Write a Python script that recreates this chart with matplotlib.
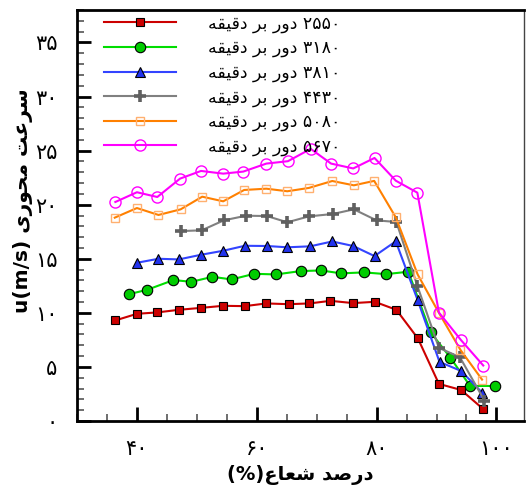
import matplotlib
matplotlib.use("Agg")
import matplotlib.pyplot as plt
from matplotlib.ticker import FixedLocator, MultipleLocator

# radial position (%) and axial velocity (m/s) for each speed
x_2550 = [36.4, 40.0, 43.4, 47.0, 50.7, 54.4, 58.0, 61.6, 65.3, 68.8, 72.3, 76.1, 79.7, 83.3, 86.9, 90.4, 94.1, 97.7]
u_2550 = [9.30, 9.91, 10.04, 10.28, 10.46, 10.65, 10.62, 10.87, 10.80, 10.87, 11.11, 10.90, 11.02, 10.28, 7.63, 3.43, 2.87, 1.15]

x_3180 = [38.7, 41.7, 46.1, 49.1, 52.6, 55.8, 59.6, 63.2, 67.3, 70.7, 74.1, 77.9, 81.6, 85.3, 89.0, 92.3, 95.6, 99.8]
u_3180 = [11.73, 12.13, 13.03, 12.87, 13.33, 13.09, 13.61, 13.55, 13.86, 13.92, 13.65, 13.74, 13.58, 13.80, 8.21, 5.87, 3.24, 3.24]

x_3810 = [40.0, 43.6, 47.0, 50.7, 54.4, 58.0, 61.7, 65.1, 68.9, 72.6, 76.1, 79.65, 83.2, 86.85, 90.5, 94.1, 97.6]
u_3810 = [14.63, 15.00, 14.94, 15.37, 15.74, 16.20, 16.18, 16.06, 16.15, 16.60, 16.18, 15.25, 16.61, 11.18, 5.46, 4.63, 2.63]

x_4430 = [47.4, 50.8, 54.5, 58.2, 61.7, 65.1, 68.7, 72.7, 76.2, 80.0, 83.3, 86.8, 90.4, 93.9, 98.0]
u_4430 = [17.56, 17.63, 18.55, 18.98, 18.95, 18.37, 18.92, 19.14, 19.57, 18.55, 18.40, 12.50, 6.76, 5.90, 1.89]

x_5080 = [36.3, 40.0, 43.6, 47.3, 50.9, 54.4, 57.9, 61.6, 65.1, 68.7, 72.6, 76.2, 79.6, 83.2, 86.85, 90.4, 94.0, 97.6]
u_5080 = [18.80, 19.69, 19.05, 19.57, 20.74, 20.31, 21.36, 21.48, 21.24, 21.55, 22.19, 21.79, 22.20, 18.83, 13.55, 10.00, 6.57, 3.83]

x_5670 = [36.4, 40.0, 43.4, 47.2, 50.7, 54.4, 57.75, 61.6, 65.2, 69.0, 72.4, 76.1, 79.65, 83.2, 86.8, 90.4, 94.1, 97.8]
u_5670 = [20.25, 21.15, 20.71, 22.41, 23.12, 22.87, 23.06, 23.80, 24.02, 25.16, 23.80, 23.35, 24.32, 22.22, 21.11, 10.03, 7.47, 5.13]

# Persian text, written in presentation forms and visual (left-to-right) order
rpm_text = "\ufeea\ufed8\ufef4\ufed7\ufea9 \ufeae\ufe91 \ufead\ufeed\ufea9"
labels = [
    rpm_text + " \u06f2\u06f5\u06f5\u06f0",
    rpm_text + " \u06f3\u06f1\u06f8\u06f0",
    rpm_text + " \u06f3\u06f8\u06f1\u06f0",
    rpm_text + " \u06f4\u06f4\u06f3\u06f0",
    rpm_text + " \u06f5\u06f0\u06f8\u06f0",
    rpm_text + " \u06f5\u06f6\u06f7\u06f0",
]
x_ticks = [40, 60, 80, 100]
x_tick_labels = ["\u06f4\u06f0", "\u06f6\u06f0", "\u06f8\u06f0", "\u06f1\u06f0\u06f0"]
y_ticks = [0, 5, 10, 15, 20, 25, 30, 35]
y_tick_labels = ["\u06f0", "\u06f5", "\u06f1\u06f0", "\u06f1\u06f5", "\u06f2\u06f0", "\u06f2\u06f5", "\u06f3\u06f0", "\u06f3\u06f5"]
x_label = "(%)\ufec9\ufe8e\ufecc\ufeb7 \ufeaa\ufebb\ufead\ufea9"
y_label = "u(m/s) \ufeef\ufead\ufeee\ufea4\ufee3 \ufe96\ufecb\ufeae\ufeb3"

plt.rcParams["font.family"] = ["DejaVu Sans"]

fig = plt.figure(figsize=(5.26, 4.93), dpi=100)
ax = fig.add_axes([77 / 526, 1 - 421 / 493, (524 - 77) / 526, (421 - 10) / 493])

styles = [
    dict(color="#cc0000", marker="s", ms=5.5, mfc="#cc0000", mec="black", mew=0.8),
    dict(color="#00dd00", marker="o", ms=7.5, mfc="#00cc00", mec="black", mew=0.8),
    dict(color="#3344ff", marker="^", ms=7.5, mfc="#2233ee", mec="black", mew=0.8),
    dict(color="#808080", marker="+", ms=9, mec="#606060", mew=2.6),
    dict(color="#ff8000", marker="s", ms=6, mfc="none", mec="#ffb070", mew=1.0),
    dict(color="#ff00ff", marker="o", ms=8, mfc="none", mec="#ff00ff", mew=1.0),
]
series = [(x_2550, u_2550), (x_3180, u_3180), (x_3810, u_3810),
          (x_4430, u_4430), (x_5080, u_5080), (x_5670, u_5670)]

for (xs, us), st, lab in zip(series, styles, labels):
    ax.plot(xs, us, lw=1.5, label=lab, **st)

ax.set_xlim(30, 104.6)
ax.set_ylim(0, 38)

ax.xaxis.set_major_locator(FixedLocator(x_ticks))
ax.set_xticklabels(x_tick_labels, fontsize=15)
ax.xaxis.set_minor_locator(MultipleLocator(5))
ax.yaxis.set_major_locator(FixedLocator(y_ticks))
ax.set_yticklabels(y_tick_labels, fontsize=15)
ax.yaxis.set_minor_locator(MultipleLocator(1))

ax.tick_params(which="both", direction="in", top=False, right=False)
ax.tick_params(axis="y", which="major", length=10, width=2, pad=14)
ax.tick_params(axis="x", which="major", length=10, width=2, pad=13)
ax.tick_params(which="minor", length=5, width=1.2, color="#555555")

for side in ["left", "bottom", "top"]:
    ax.spines[side].set_linewidth(2)
ax.spines["right"].set_linewidth(1)
ax.spines["right"].set_color("#444444")

ax.set_xlabel(x_label, fontsize=14, fontweight="bold", labelpad=4)
ax.set_ylabel(y_label, fontsize=14.5, fontweight="bold")
ax.yaxis.set_label_coords(-0.098, 0.535)

ax.legend(loc="upper left", bbox_to_anchor=(0.025, 1.027), frameon=False, fontsize=12.5,
          handlelength=4.15, handletextpad=1.85, labelspacing=0.36, numpoints=1)

fig.savefig("out.png", dpi=100)
